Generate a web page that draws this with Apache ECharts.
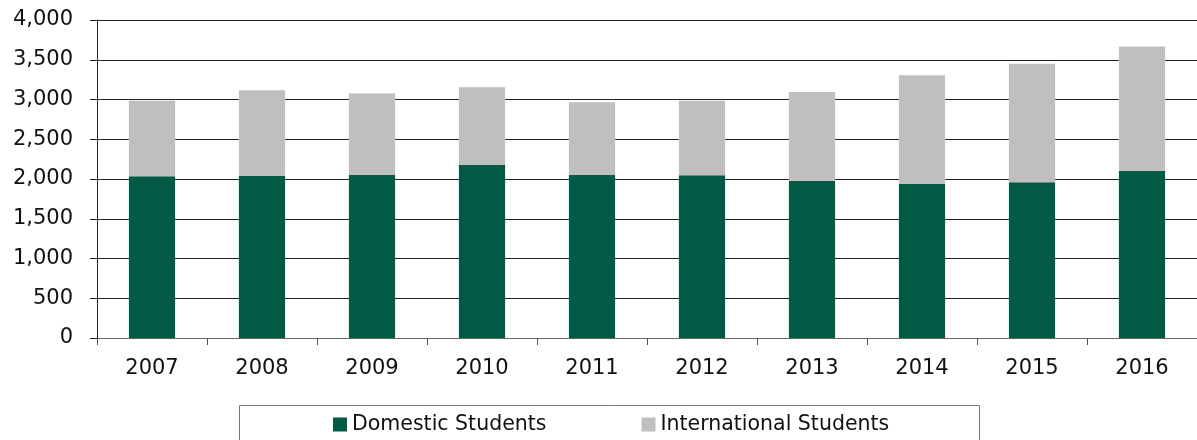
<!DOCTYPE html>
<html>
<head>
<meta charset="utf-8">
<script src="https://cdn.jsdelivr.net/npm/echarts@6/dist/echarts.min.js"></script>
<style>html,body{margin:0;padding:0;background:#fff}#c{width:1197px;height:440px}</style>
</head>
<body>
<div id="c"></div>
<script>
const years = ['2007','2008','2009','2010','2011','2012','2013','2014','2015','2016'];
const domestic = [2035, 2040, 2055, 2180, 2050, 2048, 1975, 1940, 1960, 2105];
const international = [950, 1075, 1020, 975, 915, 937, 1120, 1365, 1490, 1563];
const yTicks = [0, 500, 1000, 1500, 2000, 2500, 3000, 3500, 4000];

const FONT = 'DejaVu Sans';
const chart = echarts.init(document.getElementById('c'), null, {renderer: 'canvas'});
chart.setOption({
  animation: false,
  backgroundColor: '#fff',
  textStyle: {fontFamily: FONT},
  grid: {left: 97, right: 0, top: 20, bottom: 102, containLabel: false},
  legend: {
    left: 333, top: 414, padding: 0,
    itemWidth: 14, itemHeight: 14, itemGap: 95,
    icon: 'rect',
    textStyle: {fontFamily: FONT, fontSize: 20.5, color: '#111'},
    data: ['Domestic Students', 'International Students']
  },
  graphic: [{
    type: 'rect', left: 237, top: 403, silent: true,
    shape: {width: 740, height: 60},
    style: {fill: 'none', stroke: '#777', lineWidth: 1}
  }],
  xAxis: {
    type: 'category', data: years,
    axisLine: {lineStyle: {color: '#666', width: 1}},
    axisTick: {show: true, length: 7, lineStyle: {color: '#555'}},
    axisLabel: {fontFamily: FONT, fontSize: 21, color: '#111', margin: 20}
  },
  yAxis: {
    type: 'value', min: yTicks[0], max: yTicks[yTicks.length-1], interval: 500,
    axisLine: {show: true, lineStyle: {color: '#222', width: 1}},
    axisTick: {show: true, length: 7, lineStyle: {color: '#222'}},
    splitLine: {lineStyle: {color: '#222', width: 1}},
    axisLabel: {fontFamily: FONT, fontSize: 21, color: '#111', margin: 24,
      formatter: v => v.toLocaleString('en-US')}
  },
  series: [
    {name: 'Domestic Students', type: 'bar', stack: 's', data: domestic,
     barWidth: '42%', itemStyle: {color: '#005A44'}},
    {name: 'International Students', type: 'bar', stack: 's', data: international,
     barWidth: '42%', itemStyle: {color: '#BFBFBF'}}
  ]
});
</script>
</body>
</html>
